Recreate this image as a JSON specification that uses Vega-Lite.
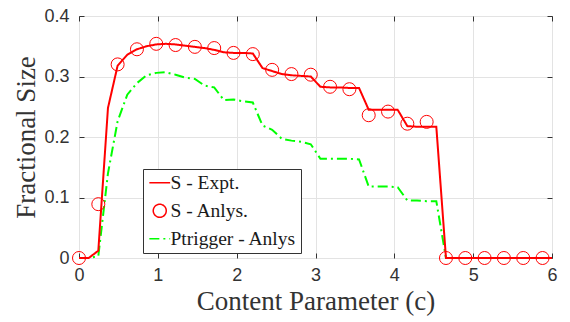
{
  "$schema": "https://vega.github.io/schema/vega-lite/v6.json",
  "width": 473,
  "height": 242,
  "autosize": {"type": "none"},
  "padding": {"left": 79, "top": 16, "right": 18, "bottom": 64},
  "background": "white",
  "config": {
    "view": {"stroke": "#333333", "strokeWidth": 1},
    "axis": {
      "labelFont": "Liberation Sans",
      "labelFontSize": 18,
      "labelColor": "#333333",
      "titleFont": "Liberation Serif",
      "titleFontWeight": "normal",
      "titleColor": "#333333",
      "domain": false,
      "tickColor": "#333333",
      "tickSize": -5,
      "tickWidth": 1,
      "gridColor": "#e3e3e3",
      "gridWidth": 1,
      "labelFlush": false,
      "labelOverlap": false
    },
    "legend": {
      "orient": "none",
      "legendX": 64,
      "legendY": 153,
      "fillColor": "white",
      "strokeColor": "#333333",
      "strokeWidth": 1,
      "padding": 4,
      "labelFont": "Liberation Serif",
      "labelFontSize": 19.5,
      "labelColor": "#1a1a1a",
      "symbolSize": 169,
      "symbolStrokeWidth": 1.5,
      "symbolFillColor": "transparent",
      "rowPadding": 7,
      "labelOffset": 1,
      "symbolOffset": 3
    }
  },
  "data": {
    "values": [
      {"s": "S - Expt.", "c": 0, "v": 0},
      {"s": "S - Expt.", "c": 0.1225, "v": 0},
      {"s": "S - Expt.", "c": 0.245, "v": 0.012},
      {"s": "S - Expt.", "c": 0.3675, "v": 0.248},
      {"s": "S - Expt.", "c": 0.49, "v": 0.318},
      {"s": "S - Expt.", "c": 0.6125, "v": 0.336},
      {"s": "S - Expt.", "c": 0.735, "v": 0.345},
      {"s": "S - Expt.", "c": 0.8575, "v": 0.35},
      {"s": "S - Expt.", "c": 0.98, "v": 0.353},
      {"s": "S - Expt.", "c": 1.1025, "v": 0.354},
      {"s": "S - Expt.", "c": 1.225, "v": 0.353},
      {"s": "S - Expt.", "c": 1.3475, "v": 0.351},
      {"s": "S - Expt.", "c": 1.47, "v": 0.349},
      {"s": "S - Expt.", "c": 1.5925, "v": 0.347},
      {"s": "S - Expt.", "c": 1.715, "v": 0.344},
      {"s": "S - Expt.", "c": 1.8375, "v": 0.34},
      {"s": "S - Expt.", "c": 1.96, "v": 0.339},
      {"s": "S - Expt.", "c": 2.0825, "v": 0.339},
      {"s": "S - Expt.", "c": 2.205, "v": 0.338},
      {"s": "S - Expt.", "c": 2.3275, "v": 0.314},
      {"s": "S - Expt.", "c": 2.45, "v": 0.309},
      {"s": "S - Expt.", "c": 2.5725, "v": 0.304},
      {"s": "S - Expt.", "c": 2.695, "v": 0.302},
      {"s": "S - Expt.", "c": 2.8175, "v": 0.301},
      {"s": "S - Expt.", "c": 2.94, "v": 0.3},
      {"s": "S - Expt.", "c": 3.0625, "v": 0.283},
      {"s": "S - Expt.", "c": 3.185, "v": 0.282},
      {"s": "S - Expt.", "c": 3.3075, "v": 0.282},
      {"s": "S - Expt.", "c": 3.43, "v": 0.281},
      {"s": "S - Expt.", "c": 3.5525, "v": 0.281},
      {"s": "S - Expt.", "c": 3.675, "v": 0.245},
      {"s": "S - Expt.", "c": 3.7975, "v": 0.245},
      {"s": "S - Expt.", "c": 3.92, "v": 0.245},
      {"s": "S - Expt.", "c": 4.0425, "v": 0.245},
      {"s": "S - Expt.", "c": 4.165, "v": 0.218},
      {"s": "S - Expt.", "c": 4.2875, "v": 0.217},
      {"s": "S - Expt.", "c": 4.41, "v": 0.217},
      {"s": "S - Expt.", "c": 4.5325, "v": 0.217},
      {"s": "S - Expt.", "c": 4.655, "v": 0},
      {"s": "S - Expt.", "c": 6, "v": 0},
      {"s": "S - Anlys.", "c": 0, "v": 0},
      {"s": "S - Anlys.", "c": 0.245, "v": 0.089},
      {"s": "S - Anlys.", "c": 0.49, "v": 0.32},
      {"s": "S - Anlys.", "c": 0.735, "v": 0.345},
      {"s": "S - Anlys.", "c": 0.98, "v": 0.354},
      {"s": "S - Anlys.", "c": 1.225, "v": 0.352},
      {"s": "S - Anlys.", "c": 1.47, "v": 0.349},
      {"s": "S - Anlys.", "c": 1.715, "v": 0.347},
      {"s": "S - Anlys.", "c": 1.96, "v": 0.339},
      {"s": "S - Anlys.", "c": 2.205, "v": 0.337},
      {"s": "S - Anlys.", "c": 2.45, "v": 0.311},
      {"s": "S - Anlys.", "c": 2.695, "v": 0.304},
      {"s": "S - Anlys.", "c": 2.94, "v": 0.303},
      {"s": "S - Anlys.", "c": 3.185, "v": 0.283},
      {"s": "S - Anlys.", "c": 3.43, "v": 0.279},
      {"s": "S - Anlys.", "c": 3.675, "v": 0.236},
      {"s": "S - Anlys.", "c": 3.92, "v": 0.242},
      {"s": "S - Anlys.", "c": 4.165, "v": 0.222},
      {"s": "S - Anlys.", "c": 4.41, "v": 0.225},
      {"s": "S - Anlys.", "c": 4.655, "v": 0},
      {"s": "S - Anlys.", "c": 4.9, "v": 0},
      {"s": "S - Anlys.", "c": 5.145, "v": 0},
      {"s": "S - Anlys.", "c": 5.39, "v": 0},
      {"s": "S - Anlys.", "c": 5.635, "v": 0},
      {"s": "S - Anlys.", "c": 5.88, "v": 0},
      {"s": "Ptrigger - Anlys", "c": 0, "v": 0},
      {"s": "Ptrigger - Anlys", "c": 0.1225, "v": 0},
      {"s": "Ptrigger - Anlys", "c": 0.245, "v": 0.003},
      {"s": "Ptrigger - Anlys", "c": 0.3675, "v": 0.14},
      {"s": "Ptrigger - Anlys", "c": 0.49, "v": 0.226},
      {"s": "Ptrigger - Anlys", "c": 0.6125, "v": 0.27},
      {"s": "Ptrigger - Anlys", "c": 0.735, "v": 0.289},
      {"s": "Ptrigger - Anlys", "c": 0.8575, "v": 0.302},
      {"s": "Ptrigger - Anlys", "c": 0.98, "v": 0.306},
      {"s": "Ptrigger - Anlys", "c": 1.1025, "v": 0.307},
      {"s": "Ptrigger - Anlys", "c": 1.225, "v": 0.303},
      {"s": "Ptrigger - Anlys", "c": 1.3475, "v": 0.298},
      {"s": "Ptrigger - Anlys", "c": 1.47, "v": 0.296},
      {"s": "Ptrigger - Anlys", "c": 1.5925, "v": 0.285},
      {"s": "Ptrigger - Anlys", "c": 1.715, "v": 0.282},
      {"s": "Ptrigger - Anlys", "c": 1.8375, "v": 0.261},
      {"s": "Ptrigger - Anlys", "c": 1.96, "v": 0.262},
      {"s": "Ptrigger - Anlys", "c": 2.0825, "v": 0.259},
      {"s": "Ptrigger - Anlys", "c": 2.205, "v": 0.257},
      {"s": "Ptrigger - Anlys", "c": 2.3275, "v": 0.219},
      {"s": "Ptrigger - Anlys", "c": 2.45, "v": 0.212},
      {"s": "Ptrigger - Anlys", "c": 2.5725, "v": 0.197},
      {"s": "Ptrigger - Anlys", "c": 2.695, "v": 0.194},
      {"s": "Ptrigger - Anlys", "c": 2.8175, "v": 0.192},
      {"s": "Ptrigger - Anlys", "c": 2.94, "v": 0.188},
      {"s": "Ptrigger - Anlys", "c": 3.0625, "v": 0.164},
      {"s": "Ptrigger - Anlys", "c": 3.185, "v": 0.164},
      {"s": "Ptrigger - Anlys", "c": 3.3075, "v": 0.164},
      {"s": "Ptrigger - Anlys", "c": 3.43, "v": 0.164},
      {"s": "Ptrigger - Anlys", "c": 3.5525, "v": 0.163},
      {"s": "Ptrigger - Anlys", "c": 3.675, "v": 0.118},
      {"s": "Ptrigger - Anlys", "c": 3.7975, "v": 0.118},
      {"s": "Ptrigger - Anlys", "c": 3.92, "v": 0.118},
      {"s": "Ptrigger - Anlys", "c": 4.0425, "v": 0.117},
      {"s": "Ptrigger - Anlys", "c": 4.165, "v": 0.095},
      {"s": "Ptrigger - Anlys", "c": 4.2875, "v": 0.095},
      {"s": "Ptrigger - Anlys", "c": 4.41, "v": 0.094},
      {"s": "Ptrigger - Anlys", "c": 4.5325, "v": 0.094},
      {"s": "Ptrigger - Anlys", "c": 4.655, "v": 0},
      {"s": "Ptrigger - Anlys", "c": 6, "v": 0}
    ]
  },
  "layer": [
    {
      "transform": [{"filter": {"field": "s", "equal": "Ptrigger - Anlys"}}],
      "mark": {"type": "line", "strokeWidth": 2},
      "encoding": {
        "x": {
          "field": "c", "type": "quantitative",
          "scale": {"domain": [0, 6], "nice": false, "zero": false},
          "axis": {"orient": "bottom", "values": [0, 1, 2, 3, 4, 5, 6], "format": "d", "grid": true,
                   "title": "Content Parameter (c)", "titleFontSize": 27, "titlePadding": 4, "labelPadding": 13}
        },
        "y": {
          "field": "v", "type": "quantitative",
          "scale": {"domain": [0, 0.4], "nice": false, "zero": false},
          "axis": {"orient": "left", "values": [0, 0.1, 0.2, 0.3, 0.4], "format": ".1~f", "grid": true,
                   "title": "Fractional Size", "titleFontSize": 27, "titlePadding": 3, "labelPadding": 15}
        },
        "color": {
          "field": "s", "type": "nominal", "title": null,
          "scale": {"domain": ["S - Expt.", "S - Anlys.", "Ptrigger - Anlys"], "range": ["#ff0000", "#ff0000", "#00ff00"]},
          "legend": {"title": null}
        },
        "strokeDash": {
          "field": "s", "type": "nominal", "title": null,
          "scale": {"domain": ["S - Expt.", "S - Anlys.", "Ptrigger - Anlys"], "range": [[1, 0], [1, 0], [10, 4, 2, 4]]},
          "legend": {"title": null}
        }
      }
    },
    {
      "transform": [{"filter": {"field": "s", "equal": "S - Expt."}}],
      "mark": {"type": "line", "strokeWidth": 2},
      "encoding": {
        "x": {"field": "c", "type": "quantitative", "axis": null},
        "y": {"field": "v", "type": "quantitative", "axis": null},
        "color": {
          "field": "s", "type": "nominal", "title": null,
          "scale": {"domain": ["S - Expt.", "S - Anlys.", "Ptrigger - Anlys"], "range": ["#ff0000", "#ff0000", "#00ff00"]}
        },
        "strokeDash": {
          "field": "s", "type": "nominal", "title": null,
          "scale": {"domain": ["S - Expt.", "S - Anlys.", "Ptrigger - Anlys"], "range": [[1, 0], [1, 0], [10, 4, 2, 4]]}
        }
      }
    },
    {
      "transform": [{"filter": {"field": "s", "equal": "S - Anlys."}}],
      "mark": {"type": "point", "filled": false, "size": 169, "strokeWidth": 1, "opacity": 1},
      "encoding": {
        "x": {"field": "c", "type": "quantitative",
              "axis": {"orient": "top", "values": [0, 1, 2, 3, 4, 5, 6], "labels": false, "grid": false, "title": null}},
        "y": {"field": "v", "type": "quantitative",
              "axis": {"orient": "right", "values": [0, 0.1, 0.2, 0.3, 0.4], "labels": false, "grid": false, "title": null}},
        "color": {
          "field": "s", "type": "nominal", "title": null,
          "scale": {"domain": ["S - Expt.", "S - Anlys.", "Ptrigger - Anlys"], "range": ["#ff0000", "#ff0000", "#00ff00"]}
        },
        "shape": {
          "field": "s", "type": "nominal", "title": null,
          "scale": {"domain": ["S - Expt.", "S - Anlys.", "Ptrigger - Anlys"], "range": ["M-1.6,0L1.6,0", "circle", "M-1.6,0L1.6,0"]},
          "legend": {"title": null}
        }
      }
    }
  ],
  "resolve": {"axis": {"x": "independent", "y": "independent"}}
}
